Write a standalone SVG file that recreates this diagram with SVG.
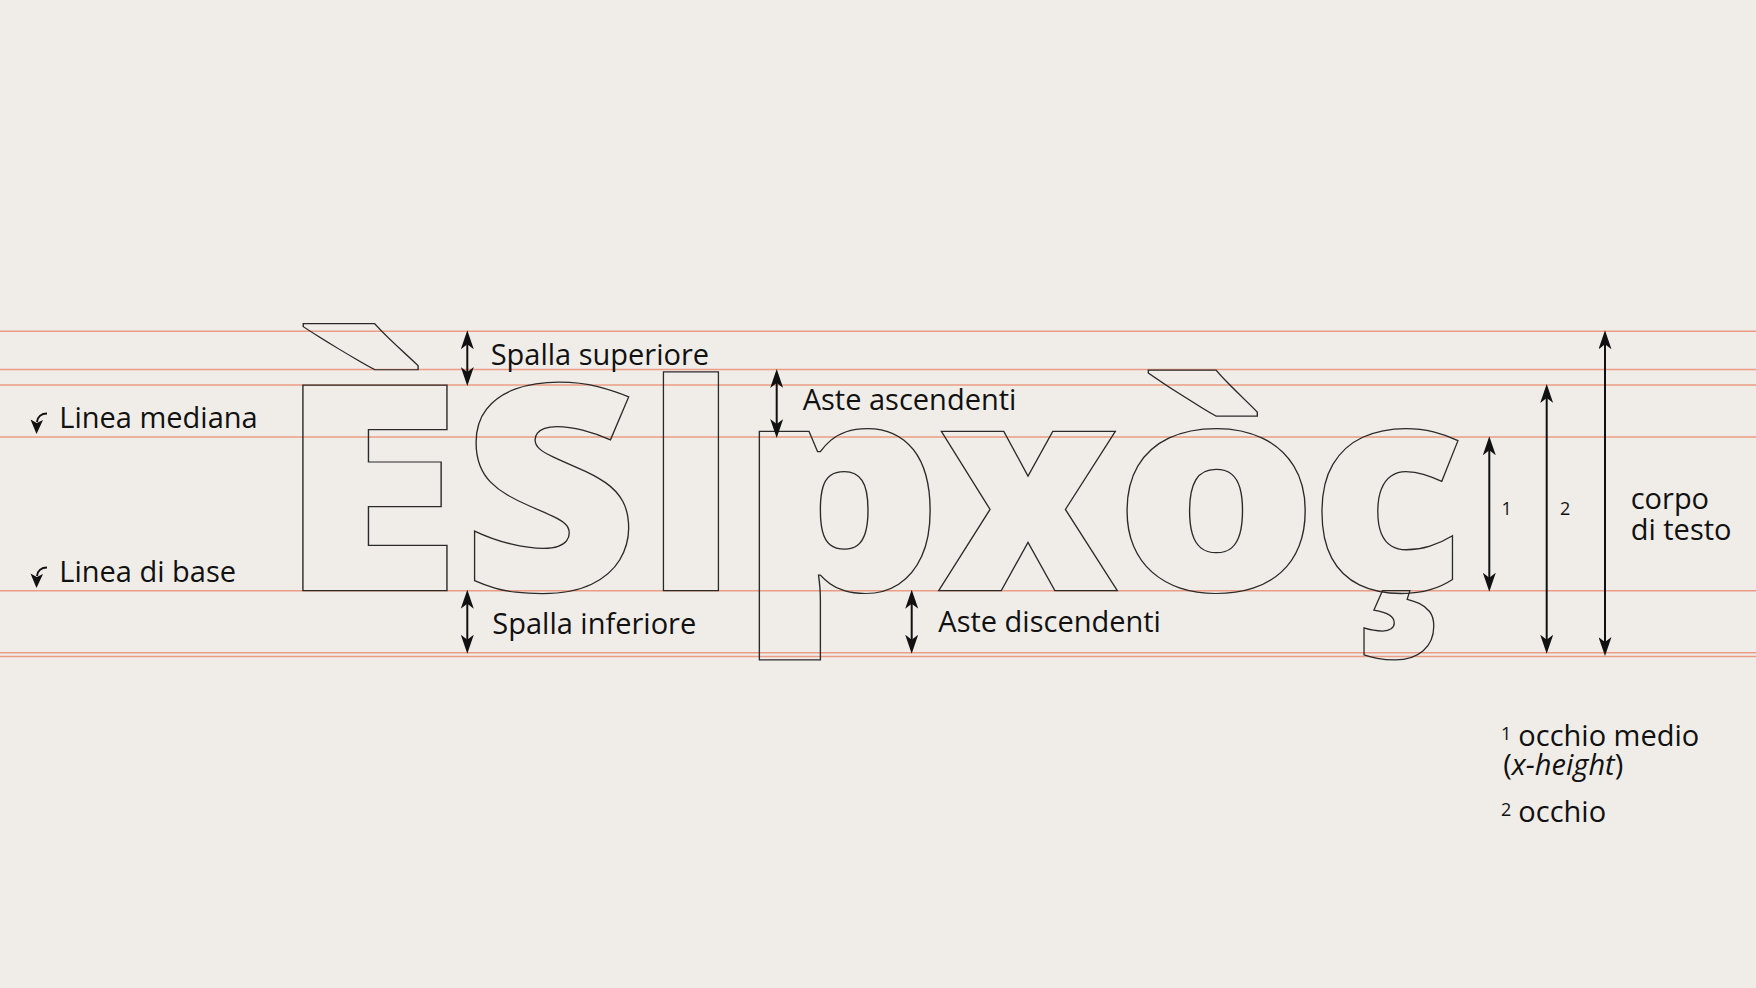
<svg xmlns="http://www.w3.org/2000/svg" width="1756" height="988" viewBox="0 0 1756 988">
<style>
.bg{fill:#f0ede8}
.guide{stroke:#eb9c84;stroke-width:1.5;fill:none}
.glyph{font-family:"Open Sans","Noto Sans",sans-serif;font-weight:800;font-size:288px;fill:none;stroke:#2a2a2a;stroke-width:1.3;text-anchor:middle;vector-effect:non-scaling-stroke}
.lbl{font-family:"Open Sans","Noto Sans",sans-serif;font-size:29px;fill:#111}
.num{font-family:"Open Sans","Noto Sans",sans-serif;font-size:18px;fill:#111}
.sup{font-family:"Open Sans","Noto Sans",sans-serif;font-size:18px;fill:#111}
.arr{stroke:#111;stroke-width:2;fill:none;marker-start:url(#ah);marker-end:url(#ah)}
</style>
<defs>
<marker id="ah" markerUnits="userSpaceOnUse" markerWidth="19" markerHeight="13" refX="12" refY="6.5" orient="auto-start-reverse" viewBox="0 0 19 13">
<path d="M0,0 L19,6.5 L0,13 L5,6.5 Z" fill="#111"/>
</marker>
</defs>
<rect class="bg" x="0" y="0" width="1756" height="988"/>
<g id="guides">
<line class="guide" x1="0" y1="331.3" x2="1756" y2="331.3"/>
<line class="guide" x1="0" y1="369.6" x2="1756" y2="369.6"/>
<line class="guide" x1="0" y1="385" x2="1756" y2="385"/>
<line class="guide" x1="0" y1="437" x2="1756" y2="437"/>
<line class="guide" x1="0" y1="590.7" x2="1756" y2="590.7"/>
<line class="guide" x1="0" y1="652.7" x2="1756" y2="652.7"/>
<line class="guide" x1="0" y1="656.5" x2="1756" y2="656.5"/>
</g>
<g id="glyphs">
<text id="g-E" class="glyph" x="373.5" y="590.7" transform="translate(373.5 0) scale(1.18 1) translate(-373.5 0)" dx="-3">È</text>
<text id="g-S" class="glyph" x="551.6" y="590.7" transform="translate(551.6 0) scale(1.07 1) translate(-551.6 0)" dx="-1.5">S</text>
<text id="g-l" class="glyph" x="691" y="590.7">l</text>
<text id="g-p" class="glyph" x="842.2" y="590.7" transform="translate(842.2 0) scale(1.11 1) translate(-842.2 0)" dx="-1">p</text>
<text id="g-x" class="glyph" x="1028" y="590.7">x</text>
<text id="g-o" class="glyph" x="1216.3" y="590.7" transform="translate(1216.3 0) scale(1.12 1) translate(-1216.3 0)">ò</text>
<text id="g-c" class="glyph" x="1387.5" y="590.7">ç</text>
</g>
<g id="connectors">
<line class="arr" x1="467.3" y1="337.3" x2="467.3" y2="379"/>
<line class="arr" x1="467.3" y1="596.7" x2="467.3" y2="646.7"/>
<line class="arr" x1="776.7" y1="376" x2="776.7" y2="431"/>
<line class="arr" x1="911.7" y1="596.7" x2="911.7" y2="646.7"/>
<line class="arr" x1="1489.3" y1="443.3" x2="1489.3" y2="584.7"/>
<line class="arr" x1="1546.7" y1="391" x2="1546.7" y2="646.7"/>
<line class="arr" x1="1605" y1="337.3" x2="1605" y2="649"/>
<path d="M47,413.5 C41.5,413.5 37.5,416.5 37,422" stroke="#111" stroke-width="2" fill="none"/>
<path d="M36.5,434 L30.5,419.5 L36.8,423 L43,420 Z" fill="#111"/>
<path d="M47,567.5 C41.5,567.5 37.5,570.5 37,576" stroke="#111" stroke-width="2" fill="none"/>
<path d="M36.5,588 L30.5,573.5 L36.8,577 L43,574 Z" fill="#111"/>
</g>
<g id="label-mediana"><text class="lbl" x="59.3" y="428">Linea mediana</text></g>
<g id="label-base"><text class="lbl" x="59.3" y="581.7">Linea di base</text></g>
<g id="label-spalla-sup"><text class="lbl" x="490.7" y="365">Spalla superiore</text></g>
<g id="label-spalla-inf"><text class="lbl" x="492.3" y="634">Spalla inferiore</text></g>
<g id="label-asc"><text class="lbl" x="802.7" y="410">Aste ascendenti</text></g>
<g id="label-disc"><text class="lbl" x="938.3" y="632.3">Aste discendenti</text></g>
<g id="label-1"><text class="num" x="1501.5" y="515">1</text></g>
<g id="label-2"><text class="num" x="1560" y="515">2</text></g>
<g id="label-corpo"><text class="lbl" x="1630.7" y="509">corpo</text><text class="lbl" x="1630.7" y="540">di testo</text></g>
<g id="footnotes">
<text class="sup" x="1501" y="740">1</text>
<text class="lbl" x="1518.3" y="746">occhio medio</text>
<text class="lbl" x="1503.3" y="775">(<tspan font-style="italic">x-height</tspan>)</text>
<text class="sup" x="1501" y="816">2</text>
<text class="lbl" x="1518.3" y="821.7">occhio</text>
</g>
</svg>
